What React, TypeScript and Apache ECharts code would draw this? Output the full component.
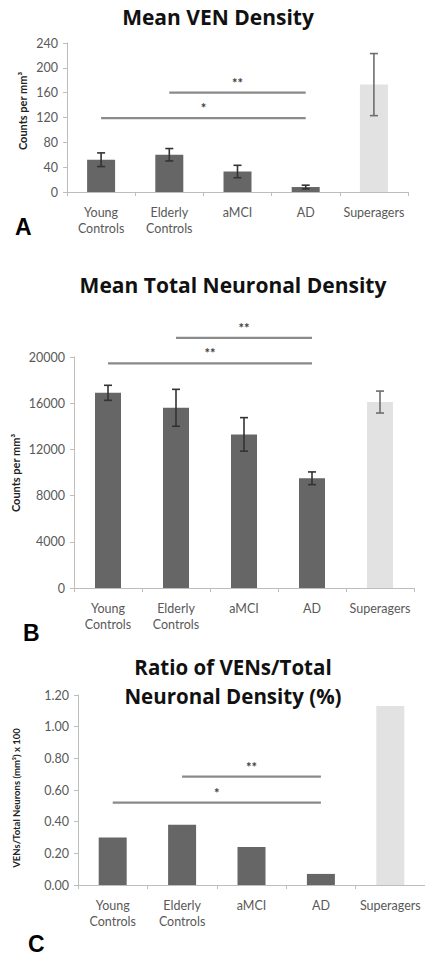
import React, { useEffect, useRef } from "react";
import * as echarts from "echarts";

const categories = ["Young\nControls", "Elderly\nControls", "aMCI", "AD", "Superagers"];

// Panel A: Mean VEN density (counts per mm3)
const venMean = [52, 60, 33, 8, 173];
const venErr = [11, 10, 10, 3, 50];
// Panel B: Mean total neuronal density
const totalMean = [16900, 15600, 13300, 9500, 16100];
const totalErr = [650, 1600, 1450, 550, 950];
// Panel C: ratio VEN / total (%)
const ratioMean = [0.30, 0.38, 0.24, 0.07, 1.13];

// significance brackets: [fromIndex, toIndex, y]
const sigA = [[1, 3, 160], [0, 3, 119]];
const sigALabels = ["**", "*"];
const sigB = [[1, 3, 21650], [0, 3, 19450]];
const sigBLabels = ["**", "**"];
const sigC = [[1, 3, 0.685], [0, 3, 0.52]];
const sigCLabels = ["**", "*"];

const yTicksA = { min: 0, max: 240, interval: 40 };
const yTicksB = { min: 0, max: 20000, interval: 4000 };
const yTicksC = { min: 0, max: 1.2, interval: 0.2 };

const DARK = "#666666";
const LIGHT = "#e2e2e2";
const FONT = "Lato, 'Open Sans', sans-serif";

export default function App() {
  const ref = useRef<HTMLDivElement>(null);
  useEffect(() => {
    if (!ref.current) return;
    const chart = echarts.init(ref.current, null, { renderer: "svg" });

    const grids = [
      { left: 67, top: 43, width: 341, height: 149 },
      { left: 74, top: 357, width: 340, height: 231 },
      { left: 78, top: 695, width: 353, height: 190 },
    ];

    const xAxes = grids.map((_, i) => ({
      type: "category",
      gridIndex: i,
      data: categories,
      axisLine: { lineStyle: { color: "#bdbdbd", width: 1 } },
      axisTick: { show: true, length: 4, lineStyle: { color: "#bdbdbd" } },
      axisLabel: {
        color: "#595959",
        fontFamily: FONT,
        fontSize: 12.5,
        lineHeight: 16,
        margin: 12,
        interval: 0,
      },
    }));

    const ticks = [yTicksA, yTicksB, yTicksC];
    const yAxes = ticks.map((t, i) => ({
      type: "value",
      gridIndex: i,
      min: t.min,
      max: t.max,
      interval: t.interval,
      splitLine: { show: false },
      axisLine: { show: true, lineStyle: { color: "#bdbdbd", width: 1 } },
      axisTick: { show: true, length: 4, lineStyle: { color: "#bdbdbd" } },
      axisLabel: {
        color: "#595959",
        fontFamily: FONT,
        fontSize: 12.5,
        margin: 9,
        formatter: i === 2 ? (v: number) => v.toFixed(2) : (v: number) => String(v),
      },
    }));

    const barData = (vals: number[]) =>
      vals.map((v, i) => ({
        value: v,
        itemStyle: { color: i === vals.length - 1 ? LIGHT : DARK },
      }));

    const errData = (mean: number[], err: number[]) =>
      mean.map((m, i) => [i, m - err[i], m + err[i]]);

    const errSeries = (idx: number, mean: number[], err: number[]) => ({
      type: "custom",
      xAxisIndex: idx,
      yAxisIndex: idx,
      clip: false,
      silent: true,
      z: 10,
      encode: { x: 0, y: [1, 2] },
      data: errData(mean, err),
      renderItem: (params: any, api: any) => {
        const x = api.value(0);
        const lo = api.coord([x, api.value(1)]);
        const hi = api.coord([x, api.value(2)]);
        const color = params.dataIndex === mean.length - 1 ? "#6e6e6e" : "#333333";
        const cap = 4;
        const style = { stroke: color, lineWidth: 1.6 };
        return {
          type: "group",
          children: [
            { type: "line", z2: 10, shape: { x1: lo[0], y1: lo[1], x2: hi[0], y2: hi[1] }, style },
            { type: "line", z2: 10, shape: { x1: hi[0] - cap, y1: hi[1], x2: hi[0] + cap, y2: hi[1] }, style },
            { type: "line", z2: 10, shape: { x1: lo[0] - cap, y1: lo[1], x2: lo[0] + cap, y2: lo[1] }, style },
          ],
        };
      },
    });

    const sigSeries = (idx: number, rows: number[][], labels: string[]) => ({
      type: "custom",
      xAxisIndex: idx,
      yAxisIndex: idx,
      clip: false,
      silent: true,
      z: 10,
      encode: { x: [0, 1], y: 2 },
      data: rows,
      renderItem: (params: any, api: any) => {
        const p0 = api.coord([api.value(0), api.value(2)]);
        const p1 = api.coord([api.value(1), api.value(2)]);
        return {
          type: "group",
          children: [
            {
              type: "line",
              shape: { x1: p0[0], y1: p0[1], x2: p1[0], y2: p1[1] },
              style: { stroke: "#8a8a8a", lineWidth: 2.2 },
            },
            {
              type: "text",
              x: (p0[0] + p1[0]) / 2,
              y: p0[1] - 10,
              style: {
                text: labels[params.dataIndex],
                fill: "#404040",
                font: `bold 13px ${FONT}`,
                textAlign: "center",
                textVerticalAlign: "middle",
              },
            },
          ],
        };
      },
    });

    const titleText = (text: string, x: number, y: number, size = 21) => ({
      type: "text",
      x,
      y,
      style: {
        text,
        fill: "#111",
        font: `bold ${size}px 'Open Sans', sans-serif`,
        textAlign: "center",
        textVerticalAlign: "middle",
      },
    });

    const panelLetter = (text: string, x: number, y: number) => ({
      type: "text",
      x,
      y,
      style: {
        text,
        fill: "#000",
        font: `bold 23px 'Liberation Sans', Arial, sans-serif`,
        textAlign: "left",
        textVerticalAlign: "middle",
      },
    });

    const yName = (text: string, x: number, y: number, size: number) => ({
      type: "text",
      x,
      y,
      rotation: Math.PI / 2,
      style: {
        text,
        fill: "#222",
        font: `bold ${size}px ${FONT}`,
        textAlign: "center",
        textVerticalAlign: "middle",
      },
    });

    chart.setOption({
      animation: false,
      backgroundColor: "#ffffff",
      grid: grids,
      xAxis: xAxes,
      yAxis: yAxes,
      graphic: [
        titleText("Mean VEN Density", 218, 17),
        titleText("Mean Total Neuronal Density", 233, 285),
        titleText("Ratio of VENs/Total", 233, 667, 20.5),
        titleText("Neuronal Density (%)", 233, 696, 20.5),
        panelLetter("A", 15, 227),
        panelLetter("B", 23, 633),
        panelLetter("C", 28, 944),
        yName("Counts per mm³", 22, 111, 11),
        yName("Counts per mm³", 15, 473, 11),
        yName("VENs/Total Neurons (mm³) x 100", 16, 798, 9.5),
      ],
      series: [
        { type: "bar", xAxisIndex: 0, yAxisIndex: 0, barWidth: 28, z: 2, data: barData(venMean) },
        { type: "bar", xAxisIndex: 1, yAxisIndex: 1, barWidth: 26, z: 2, data: barData(totalMean) },
        { type: "bar", xAxisIndex: 2, yAxisIndex: 2, barWidth: 28, z: 2, data: barData(ratioMean) },
        errSeries(0, venMean, venErr),
        errSeries(1, totalMean, totalErr),
        sigSeries(0, sigA, sigALabels),
        sigSeries(1, sigB, sigBLabels),
        sigSeries(2, sigC, sigCLabels),
      ],
    });
    return () => chart.dispose();
  }, []);

  return (
    <div
      ref={ref}
      style={{ position: "absolute", left: 0, top: 0, width: 425, height: 956, overflow: "hidden" }}
    />
  );
}
